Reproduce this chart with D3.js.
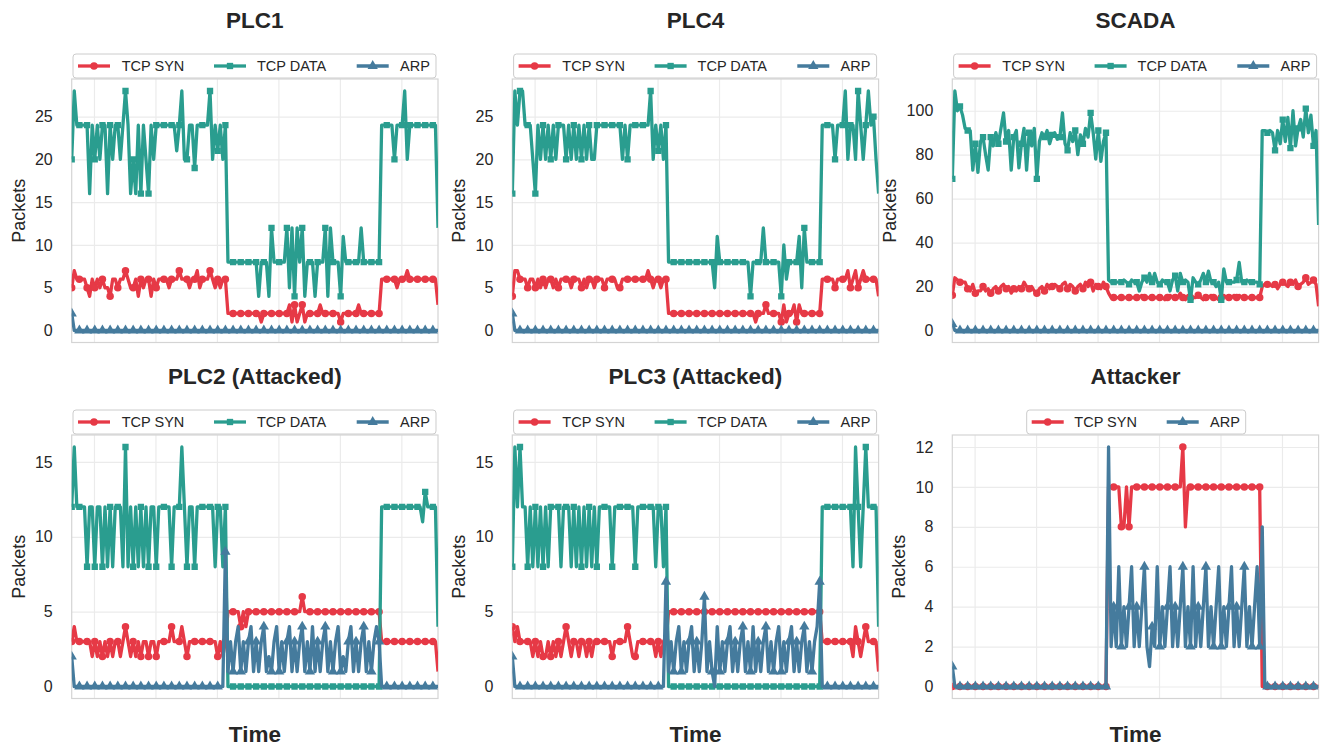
<!DOCTYPE html>
<html>
<head>
<meta charset="utf-8">
<script src="https://cdn.jsdelivr.net/npm/d3@7"></script>
<style>
  body { margin: 0; background: #fff; }
  text { font-family: "Liberation Sans", Arial, sans-serif; }
</style>
</head>
<body>
<svg id="chart" width="1322" height="746"></svg>
<script>
// ---- data (packets per time bin, 144 bins) ----
const plc1Syn = [
5,7,6,6,6,6,5,4,6,5,
6,5,6,5,5,4,6,6,5,6,
6,7,6,5,5,6,4,6,5,6,
6,4,6,5,6,6,6,6,5,6,
6,6,7,6,6,6,5,6,6,7,
5,6,6,6,7,6,5,6,5,6,
6,2,2,2,2,2,2,2,2,2,
2,2,2,2,1,2,2,2,2,2,
2,2,2,2,2,3,1,3,1,2,
3,1,2,2,2,2,2,3,2,2,
2,2,2,2,2,1,2,2,2,2,
2,2,3,2,2,2,2,2,2,2,
2,6,6,6,6,6,6,5,6,6,
6,7,6,6,6,6,6,6,6,6,
6,6,6,3];
const plc1Data = [
20,28,24,24,24,24,24,16,24,20,
24,20,24,24,16,24,20,24,24,20,
24,28,24,16,20,16,24,16,24,20,
16,24,20,24,24,24,24,24,24,24,
24,21,24,28,20,20,24,24,19,24,
24,24,24,24,28,20,24,21,24,20,
24,8,8,8,8,8,8,8,8,8,
8,8,8,4,8,8,8,4,12,8,
8,8,8,8,12,5,12,4,12,8,
12,4,8,8,8,4,8,8,8,12,
4,12,8,8,8,4,11,8,8,8,
8,8,8,12,8,8,8,8,8,8,
8,24,24,24,24,24,20,24,24,24,
28,20,24,24,24,24,24,24,24,24,
24,24,24,12];
const plc1Arp = [
2,0,0,0,0,0,0,0,0,0,
0,0,0,0,0,0,0,0,0,0,
0,0,0,0,0,0,0,0,0,0,
0,0,0,0,0,0,0,0,0,0,
0,0,0,0,0,0,0,0,0,0,
0,0,0,0,0,0,0,0,0,0,
0,0,0,0,0,0,0,0,0,0,
0,0,0,0,0,0,0,0,0,0,
0,0,0,0,0,0,0,0,0,0,
0,0,0,0,0,0,0,0,0,0,
0,0,0,0,0,0,0,0,0,0,
0,0,0,0,0,0,0,0,0,0,
0,0,0,0,0,0,0,0,0,0,
0,0,0,0,0,0,0,0,0,0,
0,0,0,0];

const plc4Syn = [
4,7,7,6,6,6,5,6,6,5,
6,5,6,5,6,6,5,6,5,6,
6,6,6,5,6,6,6,5,6,5,
6,6,5,6,6,6,5,6,6,6,
6,5,5,6,6,6,6,6,6,6,
6,6,6,7,6,5,6,6,5,6,
6,2,2,2,2,2,2,2,2,2,
2,2,2,2,2,2,2,2,2,2,
2,2,2,2,2,2,2,2,2,2,
2,2,2,2,2,1,2,2,2,3,
2,2,2,2,2,1,3,1,2,2,
3,1,3,2,2,2,2,2,2,2,
2,6,6,6,6,6,5,6,6,6,
6,7,5,6,7,5,6,7,6,6,
6,6,6,4];
const plc4Data = [
16,28,24,28,28,24,24,24,20,16,
24,20,24,20,24,20,24,20,24,24,
24,20,24,20,24,20,24,20,24,20,
24,20,20,24,24,24,24,24,24,24,
24,24,24,20,24,20,24,24,24,24,
24,24,24,24,28,20,24,21,24,20,
24,8,8,8,8,8,8,8,8,8,
8,8,8,8,8,8,8,8,8,5,
11,8,8,8,8,8,8,8,8,8,
8,8,8,4,8,8,8,8,12,8,
8,8,8,8,8,4,10,6,8,8,
8,8,11,5,12,8,8,8,8,8,
8,24,24,24,24,24,20,24,24,24,
28,20,24,24,20,28,24,20,24,28,
24,25,20,16];
const plc4Arp = [
2,0,0,0,0,0,0,0,0,0,
0,0,0,0,0,0,0,0,0,0,
0,0,0,0,0,0,0,0,0,0,
0,0,0,0,0,0,0,0,0,0,
0,0,0,0,0,0,0,0,0,0,
0,0,0,0,0,0,0,0,0,0,
0,0,0,0,0,0,0,0,0,0,
0,0,0,0,0,0,0,0,0,0,
0,0,0,0,0,0,0,0,0,0,
0,0,0,0,0,0,0,0,0,0,
0,0,0,0,0,0,0,0,0,0,
0,0,0,0,0,0,0,0,0,0,
0,0,0,0,0,0,0,0,0,0,
0,0,0,0,0,0,0,0,0,0,
0,0,0,0];

const scadaSyn = [
16,24,23,22,22,22,19,18,21,17,
18,18,20,18,19,17,19,20,18,20,
21,19,20,17,19,18,20,19,22,20,
19,20,18,17,19,20,18,21,19,20,
21,20,19,21,22,19,21,20,18,20,
21,19,22,20,22,18,21,20,19,22,
20,17,15,15,15,15,15,15,15,15,
15,15,15,15,16,15,15,15,15,15,
15,15,15,14,15,16,15,15,15,17,
15,14,16,15,15,15,16,15,14,15,
15,16,15,15,14,15,16,15,15,15,
16,15,16,15,15,15,15,15,15,15,
15,20,21,21,21,20,21,19,21,22,
21,20,22,21,23,20,21,22,24,21,
22,23,21,11];
const scadaData = [
69,109,100,102,98,92,91,91,73,85,
72,86,88,80,73,88,84,90,85,92,
99,86,91,73,88,91,74,85,92,73,
90,84,92,69,86,90,88,91,85,89,
90,87,88,99,85,82,90,86,91,80,
89,85,92,88,99,90,78,91,77,86,
90,23,22,22,22,22,22,23,22,21,
23,22,22,18,22,24,22,26,22,26,
22,21,23,22,22,18,23,25,18,26,
22,23,22,14,24,22,21,23,26,22,
27,22,22,20,22,14,28,22,22,22,
22,23,31,22,22,23,22,22,22,22,
21,91,91,90,91,90,82,91,85,96,
86,97,83,100,84,92,96,88,101,90,
98,84,91,48];
const scadaArp = [
3,0,0,0,0,0,0,0,0,0,
0,0,0,0,0,0,0,0,0,0,
0,0,0,0,0,0,0,0,0,0,
0,0,0,0,0,0,0,0,0,0,
0,0,0,0,0,0,0,0,0,0,
0,0,0,0,0,0,0,0,0,0,
0,0,0,0,0,0,0,0,0,0,
0,0,0,0,0,0,0,0,0,0,
0,0,0,0,0,0,0,0,0,0,
0,0,0,0,0,0,0,0,0,0,
0,0,0,0,0,0,0,0,0,0,
0,0,0,0,0,0,0,0,0,0,
0,0,0,0,0,0,0,0,0,0,
0,0,0,0,0,0,0,0,0,0,
0,0,0,0];

const plc2Syn = [
3,4,3,3,3,3,3,3,2,3,
2,3,2,3,2,3,2,3,3,2,
3,4,3,2,3,2,3,2,3,3,
2,3,3,2,3,3,3,3,3,4,
3,3,3,4,3,2,3,3,3,3,
3,3,3,3,3,3,3,2,3,2,
3,5,5,5,5,5,4,5,4,5,
5,5,5,5,5,5,5,5,5,5,
5,5,5,5,5,5,5,5,5,5,
6,5,5,5,5,5,5,5,5,5,
5,5,5,5,5,5,5,5,5,5,
5,5,5,5,5,5,5,5,5,5,
5,3,3,3,3,3,3,3,3,3,
3,3,3,3,3,3,3,3,3,3,
3,3,3,1];
const plc2Data = [
12,16,12,12,12,12,8,12,12,8,
12,12,8,12,8,12,8,12,12,12,
8,16,8,12,8,12,8,12,8,12,
8,12,12,8,12,12,12,12,12,8,
12,12,12,16,12,8,12,12,8,12,
12,12,12,12,12,12,8,12,12,8,
12,0,0,0,0,0,0,0,0,0,
0,0,0,0,0,0,0,0,0,0,
0,0,0,0,0,0,0,0,0,0,
0,0,0,0,0,0,0,0,0,0,
0,0,0,0,0,0,0,0,0,0,
0,0,0,0,0,0,0,0,0,0,
0,12,12,12,12,12,12,12,12,12,
12,12,12,12,12,12,12,11,13,12,
12,12,12,4];
const plc2Arp = [
2,0,0,0,0,0,0,0,0,0,
0,0,0,0,0,0,0,0,0,0,
0,0,0,0,0,0,0,0,0,0,
0,0,0,0,0,0,0,0,0,0,
0,0,0,0,0,0,0,0,0,0,
0,0,0,0,0,0,0,0,0,0,
9,1,3,1,3,4,1,3,1,3,
4,1,3,1,3,4,1,2,1,3,
4,1,3,1,3,4,1,3,1,3,
4,1,3,1,4,1,3,1,3,4,
1,3,1,3,4,1,2,1,3,4,
1,3,1,3,4,1,3,1,3,4,
3,0,0,0,0,0,0,0,0,0,
0,0,0,0,0,0,0,0,0,0,
0,0,0,0];

const plc3Syn = [
4,3,4,3,3,3,3,3,2,3,
2,3,2,2,3,2,3,2,3,2,
3,4,3,2,3,3,2,3,3,2,
3,2,3,3,3,3,3,3,3,2,
3,3,3,3,3,4,3,2,2,3,
3,3,3,3,3,3,2,3,2,3,
3,5,5,5,5,5,5,5,5,5,
5,5,5,5,5,5,5,5,5,5,
5,5,5,5,5,5,5,5,5,5,
5,5,5,5,5,5,5,5,5,5,
5,5,5,5,5,5,5,5,5,5,
5,5,5,5,5,5,5,5,5,5,
5,3,3,3,3,3,3,3,3,3,
3,3,3,2,4,3,2,3,4,3,
3,3,3,1];
const plc3Data = [
8,16,12,16,12,12,8,12,8,12,
8,12,8,12,8,12,12,12,12,8,
12,12,12,8,12,8,12,8,12,8,
12,8,12,8,12,12,12,12,12,8,
12,12,12,12,12,12,12,12,8,12,
12,12,12,12,12,12,8,12,12,8,
12,0,0,0,0,0,0,0,0,0,
0,0,0,0,0,0,0,0,0,0,
0,0,0,0,0,0,0,0,0,0,
0,0,0,0,0,0,0,0,0,0,
0,0,0,0,0,0,0,0,0,0,
0,0,0,0,0,0,0,0,0,0,
0,12,12,12,12,12,12,12,12,12,
12,12,12,8,16,12,8,12,16,12,
12,12,12,4];
const plc3Arp = [
2,0,0,0,0,0,0,0,0,0,
0,0,0,0,0,0,0,0,0,0,
0,0,0,0,0,0,0,0,0,0,
0,0,0,0,0,0,0,0,0,0,
0,0,0,0,0,0,0,0,0,0,
0,0,0,0,0,0,0,0,0,0,
7,1,3,1,3,4,1,3,1,3,
4,1,3,1,3,6,1,3,1,0,
4,1,3,1,3,4,1,3,1,3,
4,1,3,1,4,1,3,1,3,4,
1,3,1,3,4,1,3,1,3,4,
1,3,1,3,4,1,3,1,3,4,
7,0,0,0,0,0,0,0,0,0,
0,0,0,0,0,0,0,0,0,0,
0,0,0,0];

const attackerSyn = [
0,0,0,0,0,0,0,0,0,0,
0,0,0,0,0,0,0,0,0,0,
0,0,0,0,0,0,0,0,0,0,
0,0,0,0,0,0,0,0,0,0,
0,0,0,0,0,0,0,0,0,0,
0,0,0,0,0,0,0,0,0,0,
0,10,10,10,10,10,8,8,10,8,
10,10,10,10,10,10,10,10,10,10,
10,10,10,10,10,10,10,10,10,10,
12,8,10,10,10,10,10,10,10,10,
10,10,10,10,10,10,10,10,10,10,
10,10,10,10,10,10,10,10,10,10,
10,0,0,0,0,0,0,0,0,0,
0,0,0,0,0,0,0,0,0,0,
0,0,0,0];
const attackerArp = [
1,0,0,0,0,0,0,0,0,0,
0,0,0,0,0,0,0,0,0,0,
0,0,0,0,0,0,0,0,0,0,
0,0,0,0,0,0,0,0,0,0,
0,0,0,0,0,0,0,0,0,0,
0,0,0,0,0,0,0,0,0,0,
0,12,2,4,2,6,2,4,2,4,
6,2,4,2,4,6,2,1,3,2,
6,2,4,2,4,6,2,4,2,4,
6,2,4,2,6,2,4,2,4,6,
2,4,2,4,6,2,4,2,4,6,
2,4,2,4,6,2,4,2,4,6,
2,8,0,0,0,0,0,0,0,0,
0,0,0,0,0,0,0,0,0,0,
0,0,0,0];

// tick values
const timeGrid = [8.7, 32.7, 56.7, 80.7, 104.7, 128.7];
const ticksPlc = [0, 5, 10, 15, 20, 25];
const ticksScada = [0, 20, 40, 60, 80, 100];
const ticksAttacked = [0, 5, 10, 15];
const ticksAttacker = [0, 2, 4, 6, 8, 10, 12];

// ---- layout ----
const svg = d3.select('#chart');
const colLeft = [71.7, 512.3, 952.3];
const rowTop = [79, 435];
const axWidth = 366.3;
const axHeight = 263.5;
const textColor = '#262626';
const lineWidth = 3.3;

const colors = { 'TCP SYN': '#e63946', 'TCP DATA': '#2a9d8f', 'ARP': '#457b9d' };
const shapes = { 'TCP SYN': d3.symbolCircle, 'TCP DATA': d3.symbolSquare, 'ARP': d3.symbolTriangle };
const shapeSize = { 'TCP SYN': 44, 'TCP DATA': 40, 'ARP': 46 };

const panels = [
  { title: 'PLC1', col: 0, row: 0, yTicks: ticksPlc,
    series: [['TCP SYN', plc1Syn], ['TCP DATA', plc1Data], ['ARP', plc1Arp]] },
  { title: 'PLC4', col: 1, row: 0, yTicks: ticksPlc,
    series: [['TCP SYN', plc4Syn], ['TCP DATA', plc4Data], ['ARP', plc4Arp]] },
  { title: 'SCADA', col: 2, row: 0, yTicks: ticksScada,
    series: [['TCP SYN', scadaSyn], ['TCP DATA', scadaData], ['ARP', scadaArp]] },
  { title: 'PLC2 (Attacked)', col: 0, row: 1, yTicks: ticksAttacked,
    series: [['TCP SYN', plc2Syn], ['TCP DATA', plc2Data], ['ARP', plc2Arp]] },
  { title: 'PLC3 (Attacked)', col: 1, row: 1, yTicks: ticksAttacked,
    series: [['TCP SYN', plc3Syn], ['TCP DATA', plc3Data], ['ARP', plc3Arp]] },
  { title: 'Attacker', col: 2, row: 1, yTicks: ticksAttacker,
    series: [['TCP SYN', attackerSyn], ['ARP', attackerArp]] }
];

panels.forEach((p, pi) => {
  const x0 = colLeft[p.col], y0 = rowTop[p.row];
  const g = svg.append('g').attr('transform', 'translate(' + x0 + ',' + y0 + ')');
  const n = p.series[0][1].length;

  const x = d3.scaleLinear().domain([0, n - 1]).range([0, axWidth]);
  const ymax = d3.max(p.series, s => d3.max(s[1]));
  const y = d3.scaleLinear().domain([-ymax * 0.05, ymax * 1.05]).range([axHeight, 0]);

  // grid + y tick labels
  const yAxis = g.append('g')
    .call(d3.axisLeft(y).tickValues(p.yTicks).tickSize(-axWidth).tickPadding(19));
  yAxis.select('.domain').remove();
  yAxis.selectAll('line').attr('stroke', '#ebebeb').attr('stroke-width', 1.2);
  yAxis.selectAll('text')
    .attr('fill', textColor)
    .style('font-size', '16px')
    .style('font-family', '"Liberation Sans", Arial, sans-serif');

  const xAxis = g.append('g')
    .attr('transform', 'translate(0,' + axHeight + ')')
    .call(d3.axisBottom(x).tickValues(timeGrid).tickSize(-axHeight).tickFormat(''));
  xAxis.select('.domain').remove();
  xAxis.selectAll('line').attr('stroke', '#ebebeb').attr('stroke-width', 1.2);

  // frame
  g.append('rect')
    .attr('width', axWidth).attr('height', axHeight)
    .attr('fill', 'none').attr('stroke', '#d4d4d4').attr('stroke-width', 1.2);

  // clip
  g.append('clipPath').attr('id', 'clip' + pi)
    .append('rect').attr('width', axWidth).attr('height', axHeight);
  const plot = g.append('g').attr('clip-path', 'url(#clip' + pi + ')');

  const line = d3.line().x((d, i) => x(i)).y(d => y(d));

  p.series.forEach(([name, values]) => {
    plot.append('path')
      .datum(values)
      .attr('fill', 'none')
      .attr('stroke', colors[name])
      .attr('stroke-width', lineWidth)
      .attr('stroke-linejoin', 'round')
      .attr('d', line);

    plot.selectAll(null)
      .data(values.map((v, i) => [i, v]).filter(d => d[0] % 3 === 0))
      .enter().append('path')
      .attr('d', d3.symbol().type(shapes[name]).size(shapeSize[name]))
      .attr('fill', colors[name])
      .attr('transform', d => 'translate(' + x(d[0]) + ',' + y(d[1]) + ')');
  });

  // legend
  const three = p.series.length === 3;
  const boxX = three ? [1.3, 364.3] : [74.4, 293.4];
  const handleX = three ? [6.3, 142.3, 285] : [79.4, 214.4];
  const textX = three ? [50, 185.3, 328.3] : [122, 257.7];
  const lg = g.append('g').attr('transform', 'translate(0,-25)');
  lg.append('rect')
    .attr('x', boxX[0]).attr('y', 0)
    .attr('width', boxX[1] - boxX[0]).attr('height', 24)
    .attr('rx', 3)
    .attr('fill', '#fff').attr('stroke', '#cccccc').attr('stroke-width', 1);
  p.series.forEach(([name], k) => {
    lg.append('line')
      .attr('x1', handleX[k]).attr('x2', handleX[k] + 32)
      .attr('y1', 12).attr('y2', 12)
      .attr('stroke', colors[name]).attr('stroke-width', lineWidth);
    lg.append('path')
      .attr('d', d3.symbol().type(shapes[name]).size(shapeSize[name]))
      .attr('fill', colors[name])
      .attr('transform', 'translate(' + (handleX[k] + 16) + ',12)');
    lg.append('text')
      .attr('x', textX[k]).attr('y', 12).attr('dy', '0.35em')
      .attr('fill', textColor)
      .style('font-size', '14.5px')
      .text(name);
  });

  // title
  g.append('text')
    .attr('x', axWidth / 2).attr('y', -51)
    .attr('text-anchor', 'middle')
    .attr('fill', textColor)
    .style('font-size', '22.5px').style('font-weight', 'bold')
    .text(p.title);

  // y label
  const maxLen = d3.max(p.yTicks, t => String(t).length);
  const yLabelX = -53.4 - 8.9 * (maxLen - 2);
  g.append('text')
    .attr('transform', 'translate(' + yLabelX + ',' + axHeight / 2 + ') rotate(-90)')
    .attr('text-anchor', 'middle').attr('dy', '0.35em')
    .attr('fill', textColor)
    .style('font-size', '18px')
    .text('Packets');

  // x label on bottom row
  if (p.row === 1) {
    g.append('text')
      .attr('x', axWidth / 2).attr('y', axHeight + 43)
      .attr('text-anchor', 'middle')
      .attr('fill', textColor)
      .style('font-size', '22.5px').style('font-weight', 'bold')
      .text('Time');
  }
});
</script>
</body>
</html>
